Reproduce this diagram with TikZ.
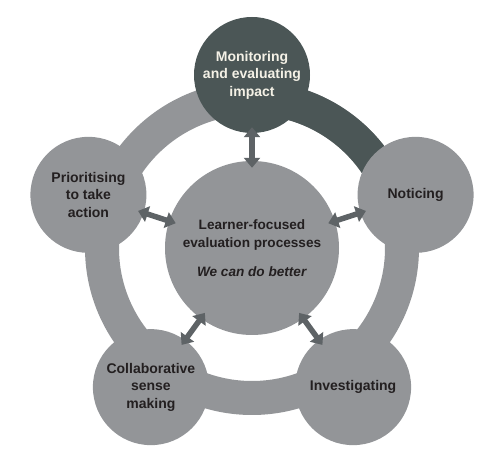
\documentclass[tikz,border=0pt]{standalone}
\usepackage{fontspec}
\setmainfont{Liberation Sans}
\usetikzlibrary{arrows.meta}
\definecolor{ringgray}{HTML}{939598}
\definecolor{darkslate}{HTML}{4B5656}
\definecolor{arrowgray}{HTML}{5E6366}
\definecolor{txtdark}{HTML}{231F20}
\definecolor{txtlight}{HTML}{F4F1E6}
\begin{document}
\begin{tikzpicture}[x=1pt,y=1pt,
  stage/.style={circle, fill=ringgray, minimum size=116pt, inner sep=0pt, align=center,
    font=\fontsize{14}{17.5}\selectfont\bfseries, text=txtdark},
  hub/.style={circle, fill=ringgray, minimum size=174pt, inner sep=0pt, align=center,
    font=\fontsize{13.6}{18}\selectfont\bfseries, text=txtdark},
  link/.style={arrowgray, line width=5.5pt, {Triangle[length=10pt,width=16pt]}-{Triangle[length=10pt,width=16pt]},
    shorten <=-7pt, shorten >=-6pt}]
\useasboundingbox (0,0) rectangle (480,450);
\coordinate (c) at (252,202);
\draw[ringgray, line width=34pt] (c) circle (150);
\draw[darkslate, line width=34pt] ([shift={(90:150)}]c) arc (90:18:150);
\node[stage, fill=darkslate, text=txtlight] (mon) at ([shift={(90:173)}]c) {Monitoring\\and evaluating\\impact};
\node[stage] (not) at ([shift={(18:172)}]c) {Noticing};
\node[stage] (inv) at ([shift={(306:172)}]c) {Investigating};
\node[stage] (col) at ([shift={(234:172)}]c) {Collaborative\\sense\\making};
\node[stage] (pri) at ([shift={(162:172)}]c) {Prioritising\\to take\\action};
\node[hub] (hub) at (c) {Learner-focused\\evaluation processes\\[11pt]\textit{We can do better}};
\draw[link] (hub.90) -- (mon.270);
\draw[link] (hub.18) -- (not.198);
\draw[link] (hub.306) -- (inv.126);
\draw[link] (hub.234) -- (col.54);
\draw[link] (hub.162) -- (pri.342);
\end{tikzpicture}
\end{document}
